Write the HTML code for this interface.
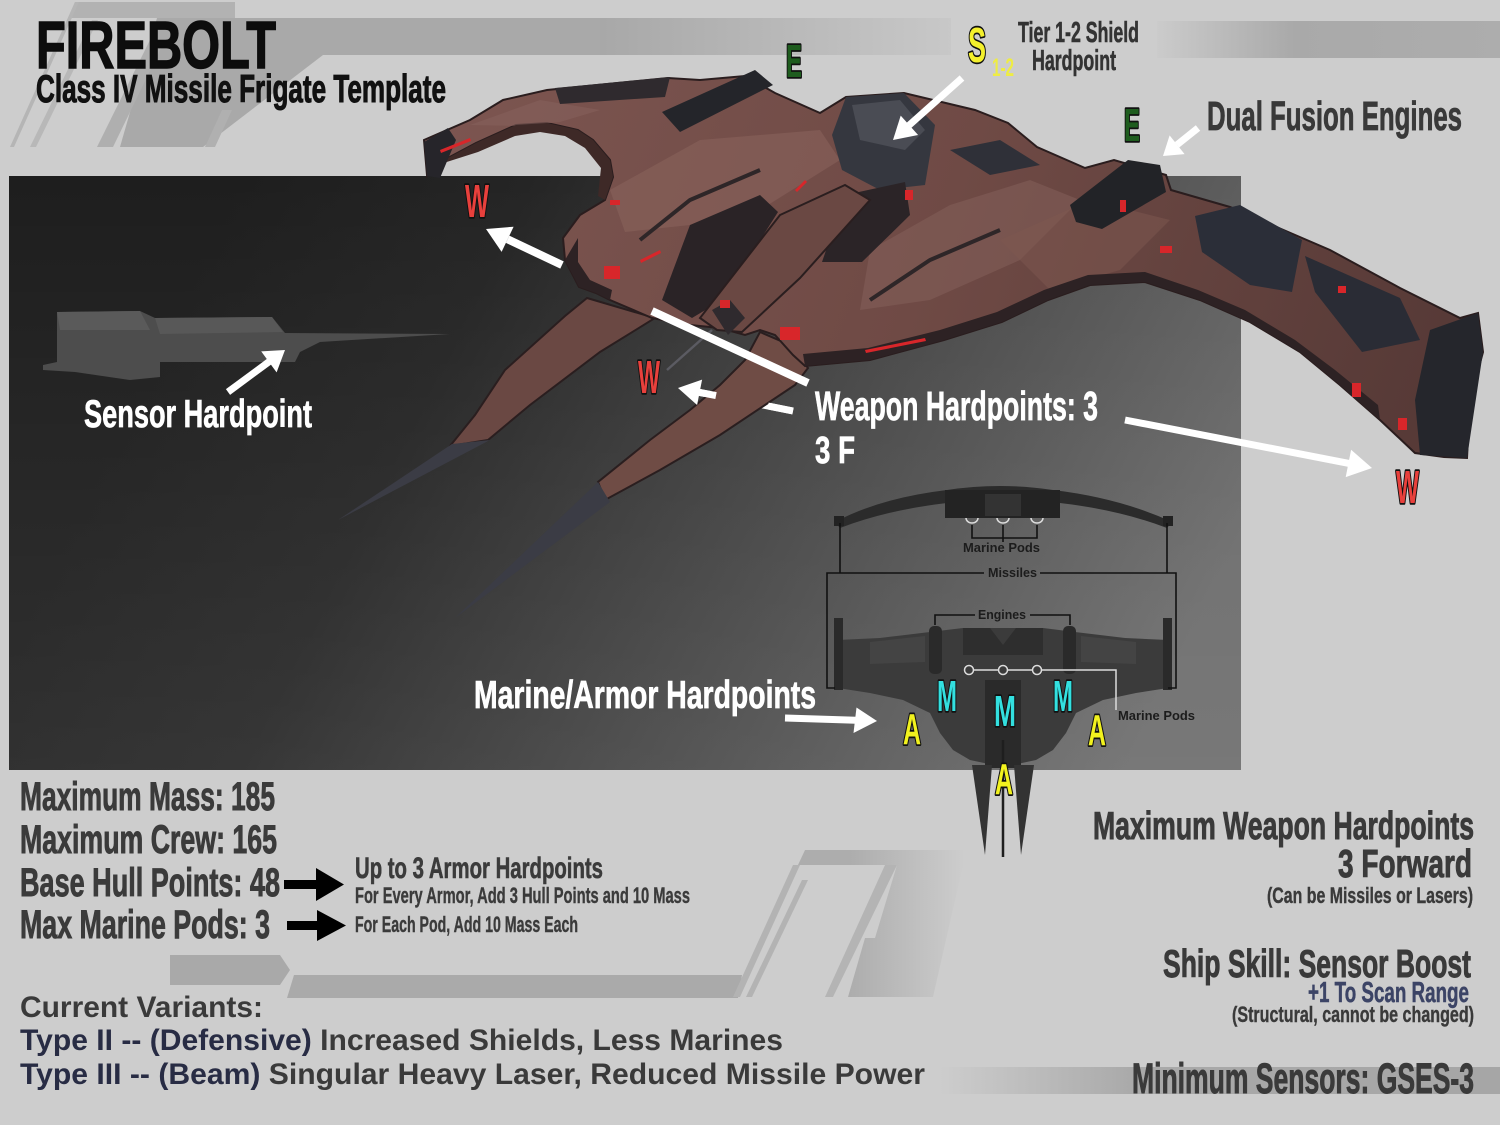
<!DOCTYPE html>
<html><head><meta charset="utf-8"><style>
html,body{margin:0;padding:0;background:#cdcdcd;}
svg{display:block;}
text{font-family:"Liberation Sans",sans-serif;font-weight:bold;}
</style></head><body>
<svg width="1500" height="1125" viewBox="0 0 1500 1125" xmlns="http://www.w3.org/2000/svg">
<defs>
<linearGradient id="panel" gradientUnits="userSpaceOnUse" x1="200" y1="250" x2="1150" y2="720">
<stop offset="0" stop-color="#1e1e1e"/><stop offset="0.25" stop-color="#252525"/><stop offset="0.65" stop-color="#4a4a4a"/><stop offset="1" stop-color="#6c6c6c"/>
</linearGradient>
<linearGradient id="panelv" x1="0" y1="0" x2="0" y2="1">
<stop offset="0" stop-color="#fff" stop-opacity="0"/><stop offset="1" stop-color="#fff" stop-opacity="0.08"/>
</linearGradient>
<linearGradient id="bandL" gradientUnits="userSpaceOnUse" x1="600" y1="0" x2="955" y2="0">
<stop offset="0" stop-color="#a8a8a8"/><stop offset="1" stop-color="#c8c8c8"/>
</linearGradient>
<linearGradient id="bandR" gradientUnits="userSpaceOnUse" x1="1157" y1="0" x2="1500" y2="0">
<stop offset="0" stop-color="#cbcbcb"/><stop offset="0.4" stop-color="#a9a9a9"/><stop offset="1" stop-color="#adadad"/>
</linearGradient>
<linearGradient id="bandB" gradientUnits="userSpaceOnUse" x1="940" y1="0" x2="1500" y2="0">
<stop offset="0" stop-color="#cdcdcd"/><stop offset="0.35" stop-color="#a9a9a9"/><stop offset="1" stop-color="#a6a6a6"/>
</linearGradient>
<linearGradient id="stripeG" gradientUnits="userSpaceOnUse" x1="850" y1="0" x2="965" y2="0">
<stop offset="0" stop-color="#adadad"/><stop offset="1" stop-color="#cdcdcd"/>
</linearGradient>
<linearGradient id="hull" gradientUnits="userSpaceOnUse" x1="450" y1="100" x2="1400" y2="450">
<stop offset="0" stop-color="#7c5550"/><stop offset="0.5" stop-color="#6f4a45"/><stop offset="1" stop-color="#573a37"/>
</linearGradient>
</defs>

<!-- background -->
<rect width="1500" height="1125" fill="#cdcdcd"/>

<!-- top-left slanted decoration -->
<polygon points="75,2 235,2 235,18 68,18" fill="#b2b2b2"/>
<polygon points="157,18 951,18 951,55 323,55 203,147 120,147" fill="#a9a9a9"/>
<rect x="600" y="18" width="351" height="37" fill="url(#bandL)"/>
<polygon points="75,2 79,2 14,147 10,147" fill="#b5b5b5"/>
<polygon points="92,20 98,20 36,147 30,147" fill="#b8b8b8"/>
<polygon points="150,40 165,40 113,147 97,147" fill="#afafaf"/>
<polygon points="222,110 232,110 215,147 205,147" fill="#b0b0b0"/>
<rect x="1157" y="21" width="343" height="37" fill="url(#bandR)"/>

<!-- dark panel -->
<rect x="9" y="176" width="1232" height="594" fill="url(#panel)"/>
<rect x="9" y="176" width="1232" height="594" fill="url(#panelv)"/>

<!-- bottom-middle decoration -->
<polygon points="170,955 280,955 290,970 280,985 170,985" fill="#a9a9a9"/>
<polygon points="294,975 742,975 738,998 287,998" fill="#aaaaaa"/>
<polygon points="805,850 963,850 963,865 798,865" fill="url(#stripeG)"/>
<polygon points="793,865 800,865 740,997 733,997" fill="#b3b3b3"/>
<polygon points="802,880 808,880 752,997 746,997" fill="#b3b3b3"/>
<polygon points="885,865 897,865 833,997 825,997" fill="#b4b4b4"/>
<polygon points="897,865 963,865 933,997 848,997 865,938 875,938" fill="url(#stripeG)"/>
<rect x="940" y="1067" width="560" height="27" fill="url(#bandB)"/>

<!-- sensor ghost ship (side view) -->
<path d="M57,312 L140,311 L155,318 L272,317 L285,333 L450,334 L320,342 L300,352 L295,362 L160,362 L160,377 L130,380 L75,372 L43,370 L43,365 L57,362 Z" fill="#4d4d4d"/>
<path d="M57,312 L140,311 L150,330 L60,330 Z" fill="#5a5a5a"/>
<path d="M155,318 L272,317 L283,332 L160,334 Z" fill="#585858"/>

<!-- arrows under ship -->
<line x1="699" y1="392.3" x2="793" y2="411" stroke="#fff" stroke-width="7"/>

<!-- SHIP -->
<!-- prongs -->
<polygon points="587,298 655,318 600,352 530,405 488,440 450,446 475,415 505,370 565,316" fill="#6a4843" stroke="#2a1e1f" stroke-width="2"/>
<polygon points="452,444 490,440 338,520" fill="#3b3c45"/>
<polygon points="760,332 790,345 808,368 795,385 765,405 720,435 660,470 605,500 598,482 650,440 690,410 720,385 745,360" fill="#6f4c45" stroke="#2a1e1f" stroke-width="2"/>
<polygon points="598,482 610,502 455,618" fill="#3b3c45"/>
<line x1="712" y1="330" x2="667" y2="370" stroke="#5b5b62" stroke-width="2.5"/>

<!-- main hull -->
<path d="M424,140 L470,120 L503,100 L547,90 L668,78 L700,80 L745,76 L775,93 L820,113 L846,97 L904,93 L975,110 L1008,123 L1037,147 L1085,168 L1114,160 L1166,175 L1171,190 L1230,207 L1330,250 L1400,288 L1460,318 L1478,313 L1483,352 L1470,400 L1467,458 L1444,457 L1415,453 L1380,420 L1340,385 L1300,352 L1250,322 L1200,300 L1145,282 L1090,285 L1048,300 L1002,322 L944,340 L870,360 L805,366 L793,355 L775,335 L760,330 L745,335 L720,328 L690,325 L652,318 L610,300 L596,293 L579,287 L565,260 L563,238 L580,215 L605,200 L613,177 L610,160 L593,140 L578,130 L547,123 L516,125 L476,143 L431,167 L427,175 Z" fill="url(#hull)" stroke="#2a1d1e" stroke-width="2"/>

<!-- lighter panels -->
<path d="M610,190 L700,140 L820,130 L840,160 L760,210 L690,225 L625,232 Z" fill="#8a655d" opacity="0.55"/>
<path d="M870,250 L950,205 L1030,180 L1080,200 L1020,260 L930,300 L860,310 Z" fill="#86625b" opacity="0.5"/>
<path d="M470,125 L540,100 L600,110 L560,122 L520,126 Z" fill="#86605c" opacity="0.6"/>
<path d="M1000,240 L1090,200 L1170,220 L1120,270 L1050,290 Z" fill="#7d5850" opacity="0.5"/>
<!-- crescent inner shadow -->
<path d="M431,167 L476,143 L516,125 L547,123 L578,130 L593,140 L610,160 L613,177 L605,200 L598,196 L601,168 L585,148 L565,136 L540,132 L515,136 L478,152 Z" fill="#3e2927"/>
<!-- hull lower edge dark band -->
<path d="M805,366 L870,360 L944,340 L1002,322 L1048,300 L1090,285 L1145,282 L1200,300 L1250,322 L1300,352 L1340,385 L1380,420 L1378,405 L1335,370 L1295,340 L1245,310 L1198,290 L1145,272 L1088,275 L1044,290 L997,312 L940,330 L868,348 L803,354 Z" fill="#2d2224"/>
<path d="M565,260 L579,287 L596,293 L610,300 L612,290 L590,280 L578,262 L578,238 Z" fill="#2d2224"/>

<!-- dark structures -->
<polygon points="424,142 448,128 456,140 440,178 427,176" fill="#26252a"/>
<polygon points="555,88 670,77 665,97 560,104" fill="#2f2a2e"/>
<polygon points="662,112 755,70 773,85 680,132" fill="#24252a"/>
<polygon points="846,97 904,93 935,125 925,185 880,190 842,170 832,135" fill="#35373f"/>
<polygon points="852,105 900,100 925,130 905,150 860,140" fill="#4a4c54"/>
<!-- gaps around central spine -->
<polygon points="690,225 760,195 778,212 722,300 692,318 662,300" fill="#2a2326"/>
<polygon points="845,195 905,182 910,215 862,262 822,262" fill="#2b2427"/>
<polygon points="717,330 700,318 780,215 845,185 870,200 800,278 742,332" fill="#6a4843" stroke="#2a1e1f" stroke-width="2"/>
<polygon points="712,310 730,300 745,318 728,335" fill="#2f2a2e"/>
<polygon points="1070,205 1128,160 1160,165 1166,192 1102,229 1076,222" fill="#222327"/>
<polygon points="1195,216 1240,205 1302,240 1292,292 1250,285 1202,252" fill="#2b2e38"/>
<polygon points="1305,256 1400,298 1420,340 1362,352 1315,292" fill="#2a2c35"/>
<polygon points="1430,330 1478,313 1483,352 1467,458 1420,455 1415,400" fill="#25262c"/>
<polygon points="950,150 1000,140 1040,165 990,175" fill="#2f3038"/>
<polyline points="640,240 690,200 760,170" fill="none" stroke="#2e2628" stroke-width="4"/>
<polyline points="870,300 930,260 1000,230" fill="none" stroke="#2e2628" stroke-width="4"/>

<!-- red lights -->
<g fill="#d8262a">
<rect x="604" y="266" width="16" height="13"/>
<rect x="780" y="327" width="20" height="13"/>
<rect x="720" y="300" width="10" height="8"/>
<rect x="905" y="190" width="8" height="10"/>
<rect x="1160" y="246" width="12" height="7"/>
<rect x="1352" y="383" width="9" height="14"/>
<rect x="1398" y="418" width="9" height="12"/>
<rect x="1338" y="286" width="8" height="7"/>
<rect x="1120" y="200" width="6" height="12"/>
<rect x="610" y="200" width="10" height="5"/>
<polygon points="440,150 470,138 471,141 441,153"/>
<polygon points="865,350 925,338 926,341 866,353"/>
<polygon points="640,260 660,250 661,253 641,263"/>
<polygon points="795,190 805,180 807,182 797,192"/>
</g>

<!-- arrows on top -->
<g fill="#fff">
<line x1="507.6" y1="239.3" x2="562" y2="265" stroke="#fff" stroke-width="8"/>
<polygon points="486,229 513.6,226.7 501.6,251.9"/>
<line x1="652" y1="311" x2="808" y2="383" stroke="#fff" stroke-width="8"/>
<polygon points="678,388 702.1,379.6 697.1,405"/>
<line x1="699" y1="392.3" x2="716" y2="395.6" stroke="#fff" stroke-width="7"/>
<line x1="768" y1="406" x2="793" y2="411" stroke="#fff" stroke-width="7"/>
<line x1="1125" y1="420" x2="1349" y2="463.4" stroke="#fff" stroke-width="7"/>
<polygon points="1372,468 1345.7,477.1 1351.1,449.7"/>
<line x1="228" y1="392" x2="270" y2="361" stroke="#fff" stroke-width="7"/>
<polygon points="285,350 276.6,372.4 261.2,351.4"/>
<line x1="962" y1="78" x2="909" y2="125.3" stroke="#fff" stroke-width="7"/>
<polygon points="893,140 918.1,135 900.7,115.6"/>
<line x1="1198" y1="128" x2="1177" y2="144.8" stroke="#fff" stroke-width="7"/>
<polygon points="1163,156 1184.6,154.1 1169.6,135.4"/>
<line x1="785" y1="718" x2="856" y2="720.3" stroke="#fff" stroke-width="7"/>
<polygon points="877,721 853.5,733 856.5,707.5"/>
</g>

<!-- TOP-VIEW DIAGRAM -->
<path d="M835,522 Q880,498 947,490 Q1000,482 1053,490 Q1120,498 1172,522 L1167,528 Q1120,510 1060,503 L1050,518 L955,518 L947,503 Q887,510 840,528 Z" fill="#2b2b2b"/>
<rect x="945" y="490" width="115" height="28" fill="#232323"/>
<rect x="985" y="494" width="36" height="22" fill="#333"/>
<rect x="834" y="516" width="10" height="10" fill="#222"/>
<rect x="1163" y="516" width="10" height="10" fill="#222"/>
<g fill="none" stroke="#ddd" stroke-width="1.5">
<path d="M966,518 A6,5 0 0 0 978,518"/><path d="M997,518 A6,5 0 0 0 1009,518"/><path d="M1031,518 A6,5 0 0 0 1043,518"/>
</g>
<path d="M838,640 L880,638 L930,632 L963,628 L1043,628 L1075,632 L1125,638 L1168,640 L1168,688 L1136,693 L1103,700 L1076,713 L1066,733 L1053,750 L1036,760 L1003,767 L970,760 L953,750 L940,733 L930,713 L903,700 L870,693 L838,688 Z" fill="#3b3b3b"/>
<path d="M870,642 L925,636 L925,662 L870,664 Z" fill="#444"/>
<path d="M1081,636 L1136,642 L1136,664 L1081,662 Z" fill="#444"/>
<path d="M963,628 L990,628 L1003,645 L1016,628 L1043,628 L1043,655 L963,655 Z" fill="#2e2e2e"/>
<rect x="985" y="680" width="36" height="88" fill="#2a2a2a"/>
<rect x="929" y="626" width="13" height="48" rx="5" fill="#2a2a2a"/>
<rect x="1063" y="626" width="13" height="48" rx="5" fill="#2a2a2a"/>
<rect x="834" y="618" width="9" height="72" fill="#2a2a2a"/>
<rect x="1163" y="618" width="9" height="72" fill="#2a2a2a"/>
<polygon points="972,765 992,765 985,855" fill="#333"/>
<polygon points="1014,765 1034,765 1021,855" fill="#333"/>
<line x1="1003" y1="740" x2="1003" y2="857" stroke="#1e1e1e" stroke-width="2.5"/>
<g fill="none" stroke="#111" stroke-width="1.6">
<line x1="840" y1="523" x2="840" y2="573"/>
<line x1="1167" y1="523" x2="1167" y2="573"/>
<polyline points="835,688 827,688 827,573 984,573"/>
<polyline points="1040,573 1176,573 1176,688 1168,688"/>
<polyline points="972,525 972,538 1037,538 1037,525"/>
<line x1="1003" y1="525" x2="1003" y2="542"/>
<polyline points="935,625 935,615 975,615"/>
<polyline points="1030,615 1070,615 1070,625"/>
</g>
<g fill="none" stroke="#dcdcdc" stroke-width="1.5">
<circle cx="969" cy="670" r="4.5"/><circle cx="1003" cy="670" r="4.5"/><circle cx="1037" cy="670" r="4.5"/>
<line x1="973.5" y1="670" x2="998.5" y2="670"/><line x1="1007.5" y1="670" x2="1032.5" y2="670"/>
<polyline points="1041.5,670 1116,670 1116,710"/>
</g>
<g fill="#1c1c1c" font-size="13">
<text x="963" y="552" textLength="77" lengthAdjust="spacingAndGlyphs">Marine Pods</text>
<text x="988" y="577" textLength="49" lengthAdjust="spacingAndGlyphs">Missiles</text>
<text x="978" y="619" textLength="48" lengthAdjust="spacingAndGlyphs">Engines</text>
<text x="1118" y="720" textLength="77" lengthAdjust="spacingAndGlyphs">Marine Pods</text>
</g>

<!-- outlined letter labels -->
<g stroke="#111" stroke-width="3.5" paint-order="stroke" stroke-linejoin="round">
<text x="786" y="77" font-size="46" fill="#1e5c1e" textLength="16" lengthAdjust="spacingAndGlyphs">E</text>
<text x="1124" y="141" font-size="46" fill="#1e5c1e" textLength="16" lengthAdjust="spacingAndGlyphs">E</text>
<text x="968" y="62" font-size="49" fill="#f4f02c" textLength="18" lengthAdjust="spacingAndGlyphs">S</text>
<text x="465" y="217" font-size="46" fill="#e8403c" textLength="24" lengthAdjust="spacingAndGlyphs">W</text>
<text x="638" y="393" font-size="46" fill="#e8403c" textLength="22" lengthAdjust="spacingAndGlyphs">W</text>
<text x="1396" y="503" font-size="46" fill="#e8403c" textLength="23" lengthAdjust="spacingAndGlyphs">W</text>
<text x="937" y="711" font-size="44" fill="#33e0e0" textLength="20" lengthAdjust="spacingAndGlyphs">M</text>
<text x="994" y="726" font-size="44" fill="#33e0e0" textLength="22" lengthAdjust="spacingAndGlyphs">M</text>
<text x="1053" y="711" font-size="44" fill="#33e0e0" textLength="20" lengthAdjust="spacingAndGlyphs">M</text>
<text x="903" y="744" font-size="44" fill="#f2f21e" textLength="18" lengthAdjust="spacingAndGlyphs">A</text>
<text x="1088" y="745" font-size="44" fill="#f2f21e" textLength="18" lengthAdjust="spacingAndGlyphs">A</text>
<text x="995" y="794" font-size="44" fill="#f2f21e" textLength="18" lengthAdjust="spacingAndGlyphs">A</text>
</g>
<text x="992" y="76" font-size="25" fill="#eeec44" textLength="22" lengthAdjust="spacingAndGlyphs">1-2</text>

<!-- titles -->
<text x="36" y="68" font-size="67" fill="#0d0d0d" stroke="#0d0d0d" stroke-width="1.5" textLength="240" lengthAdjust="spacingAndGlyphs">FIREBOLT</text>
<text x="36" y="102" font-size="39" fill="#111" stroke="#111" stroke-width="1" textLength="410" lengthAdjust="spacingAndGlyphs">Class IV Missile Frigate Template</text>
<text x="1018" y="42" font-size="29" fill="#333" stroke="#333" stroke-width="0.6" textLength="121" lengthAdjust="spacingAndGlyphs">Tier 1-2 Shield</text>
<text x="1032" y="70" font-size="29" fill="#333" stroke="#333" stroke-width="0.6" textLength="84" lengthAdjust="spacingAndGlyphs">Hardpoint</text>
<text x="1207" y="130" font-size="41" fill="#393939" stroke="#393939" stroke-width="0.8" textLength="255" lengthAdjust="spacingAndGlyphs">Dual Fusion Engines</text>

<!-- white labels -->
<g fill="#fff" stroke="#fff" stroke-width="0.7">
<text x="815" y="420" font-size="41" textLength="283" lengthAdjust="spacingAndGlyphs">Weapon Hardpoints: 3</text>
<text x="815" y="463" font-size="38" textLength="40" lengthAdjust="spacingAndGlyphs">3 F</text>
<text x="84" y="427" font-size="39" textLength="228" lengthAdjust="spacingAndGlyphs">Sensor Hardpoint</text>
<text x="474" y="708" font-size="39" textLength="342" lengthAdjust="spacingAndGlyphs">Marine/Armor Hardpoints</text>
</g>

<!-- stats -->
<g fill="#3b3b3b" stroke="#3b3b3b" stroke-width="0.9">
<text x="20" y="810" font-size="40" textLength="255" lengthAdjust="spacingAndGlyphs">Maximum Mass: 185</text>
<text x="20" y="853" font-size="40" textLength="257" lengthAdjust="spacingAndGlyphs">Maximum Crew: 165</text>
<text x="20" y="896" font-size="40" textLength="260" lengthAdjust="spacingAndGlyphs">Base Hull Points: 48</text>
<text x="20" y="938" font-size="40" textLength="250" lengthAdjust="spacingAndGlyphs">Max Marine Pods: 3</text>
<text x="355" y="878" font-size="30" stroke-width="0.6" textLength="248" lengthAdjust="spacingAndGlyphs">Up to 3 Armor Hardpoints</text>
<text x="355" y="903" font-size="22" stroke-width="0.4" textLength="335" lengthAdjust="spacingAndGlyphs">For Every Armor, Add 3 Hull Points and 10 Mass</text>
<text x="355" y="932" font-size="22" stroke-width="0.4" textLength="223" lengthAdjust="spacingAndGlyphs">For Each Pod, Add 10 Mass Each</text>
</g>
<g fill="#000">
<rect x="284" y="880" width="36" height="9"/>
<polygon points="316,868 344,884.5 316,901"/>
<rect x="287" y="921" width="34" height="9"/>
<polygon points="317,910 346,925.5 317,941"/>
</g>

<!-- variants -->
<text x="20" y="1017" font-size="30" fill="#3a3a3a" textLength="243" lengthAdjust="spacingAndGlyphs">Current Variants:</text>
<text x="20" y="1050" font-size="30" fill="#3a3a3a" textLength="763" lengthAdjust="spacingAndGlyphs"><tspan fill="#282c44">Type II -- (Defensive)</tspan> Increased Shields, Less Marines</text>
<text x="20" y="1084" font-size="30" fill="#3a3a3a" textLength="905" lengthAdjust="spacingAndGlyphs"><tspan fill="#282c44">Type III -- (Beam)</tspan> Singular Heavy Laser, Reduced Missile Power</text>

<!-- right stats -->
<g fill="#3a3a3a" stroke="#3a3a3a" stroke-width="0.9">
<text x="1093" y="839" font-size="39" textLength="381" lengthAdjust="spacingAndGlyphs">Maximum Weapon Hardpoints</text>
<text x="1338" y="877" font-size="39" textLength="134" lengthAdjust="spacingAndGlyphs">3 Forward</text>
<text x="1267" y="903" font-size="22" stroke-width="0.4" textLength="206" lengthAdjust="spacingAndGlyphs">(Can be Missiles or Lasers)</text>
<text x="1163" y="977" font-size="39" textLength="308" lengthAdjust="spacingAndGlyphs">Ship Skill: Sensor Boost</text>
<text x="1308" y="1002" font-size="29" fill="#3c4466" stroke="#3c4466" stroke-width="0.5" textLength="161" lengthAdjust="spacingAndGlyphs">+1 To Scan Range</text>
<text x="1232" y="1022" font-size="22" stroke-width="0.4" textLength="242" lengthAdjust="spacingAndGlyphs">(Structural, cannot be changed)</text>
<text x="1132" y="1093" font-size="43" textLength="342" lengthAdjust="spacingAndGlyphs">Minimum Sensors: GSES-3</text>
</g>
</svg>
</body></html>
